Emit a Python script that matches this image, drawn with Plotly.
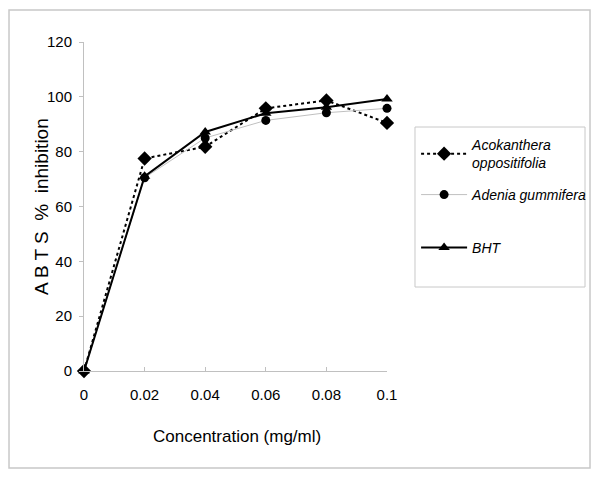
import plotly.graph_objects as go

conc = [0, 0.02, 0.04, 0.06, 0.08, 0.1]
acokanthera = [0, 77.5, 81.8, 95.8, 98.7, 90.5]
adenia = [0, 70.5, 85.0, 91.4, 94.2, 95.8]
bht = [0, 71.0, 87.2, 94.0, 96.2, 99.2]
xticks = ["0", "0.02", "0.04", "0.06", "0.08", "0.1"]

font = "Liberation Sans Narrow, Arial Narrow, Liberation Sans, Arial, sans-serif"

fig = go.Figure()
fig.add_trace(go.Scatter(
    x=conc, y=acokanthera, name="Acokanthera<br>oppositifolia",
    mode="lines+markers", legend="legend",
    line=dict(color="black", width=2, dash="dot"),
    marker=dict(symbol="diamond", size=11, color="black"), cliponaxis=False))
fig.add_trace(go.Scatter(
    x=conc, y=adenia, name="Adenia gummifera",
    mode="lines+markers", legend="legend2",
    line=dict(color="#c0c0c0", width=1),
    marker=dict(symbol="circle", size=9, color="black"), cliponaxis=False))
fig.add_trace(go.Scatter(
    x=conc, y=bht, name="BHT",
    mode="lines+markers", legend="legend3",
    line=dict(color="black", width=2),
    marker=dict(symbol="triangle-up", size=10, color="black"), cliponaxis=False))

# outer frame round the whole chart
fig.add_shape(type="rect", xref="paper", yref="paper",
              x0=-0.2475, x1=1.67, y0=-0.295, y1=1.097,
              line=dict(color="#c8c8c8", width=1.5))
# legend box
fig.add_shape(type="rect", xref="paper", yref="paper",
              x0=1.0924, x1=1.6535, y0=0.2553, y1=0.7416,
              line=dict(color="#c8c8c8", width=1))

# axis titles as annotations so they sit where the original has them
fig.add_annotation(text="Concentration (mg/ml)", xref="paper", yref="paper",
                   x=0.505, y=-0.1976, xanchor="center", yanchor="middle",
                   showarrow=False, font=dict(size=17))
fig.add_annotation(text="A B T S  %  inhibition", xref="paper", yref="paper",
                   x=-0.1386, y=0.4985, xanchor="center", yanchor="middle",
                   textangle=-90, showarrow=False, font=dict(size=19))

leg = dict(xanchor="left", yanchor="middle", x=1.096, borderwidth=0,
           bgcolor="rgba(0,0,0,0)", font=dict(size=14, style="italic"),
           itemwidth=46)

fig.update_layout(
    width=600, height=478,
    margin=dict(l=84, r=213, t=42, b=107, autoexpand=False),
    plot_bgcolor="white", paper_bgcolor="white",
    font=dict(family=font, color="black", size=15),
    legend=dict(leg, y=0.6596),
    legend2=dict(leg, y=0.535),
    legend3=dict(leg, y=0.374),
    xaxis=dict(range=[0, 0.1], tickvals=conc, ticktext=xticks,
               showgrid=False, zeroline=False, showline=True, automargin=False,
               linecolor="#c0c0c0", ticks="inside", ticklen=4,
               tickcolor="#c0c0c0", ticklabelstandoff=10),
    yaxis=dict(range=[0, 120], dtick=20,
               showgrid=False, zeroline=False, showline=True, automargin=False,
               linecolor="#c0c0c0", ticks="outside", ticklen=4,
               tickcolor="#c0c0c0", ticklabelstandoff=4),
    showlegend=True,
)

fig.write_html("out.html", config={"displayModeBar": False},
               post_script="document.body.style.margin='0px';")
